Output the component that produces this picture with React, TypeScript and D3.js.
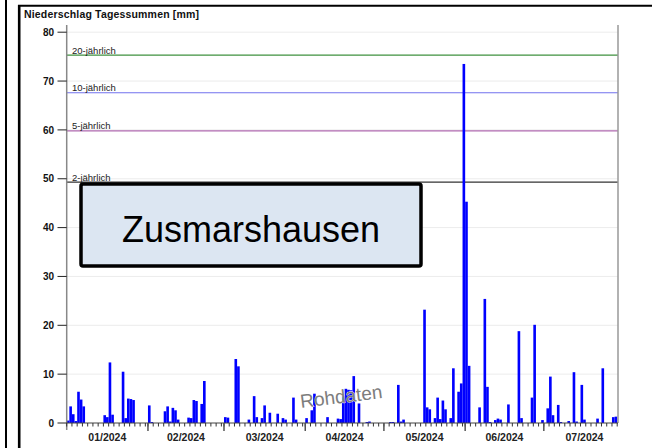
import * as d3 from "d3";
import { useEffect, useRef } from "react";

// daily precipitation, only days with rain (mm)
const rainDates = [
  "2024-01-01","2024-01-02","2024-01-03","2024-01-04","2024-01-05","2024-01-06","2024-01-07",
  "2024-01-15","2024-01-16","2024-01-17","2024-01-18","2024-01-22","2024-01-23","2024-01-24","2024-01-25","2024-01-26",
  "2024-02-01","2024-02-02","2024-02-07","2024-02-08","2024-02-09","2024-02-10","2024-02-11","2024-02-12",
  "2024-02-16","2024-02-17","2024-02-18","2024-02-19","2024-02-21","2024-02-22",
  "2024-03-01","2024-03-02","2024-03-05","2024-03-06","2024-03-10","2024-03-12","2024-03-13","2024-03-15","2024-03-16",
  "2024-03-18","2024-03-21","2024-03-23","2024-03-24","2024-03-27","2024-03-28",
  "2024-04-01","2024-04-03","2024-04-04","2024-04-09","2024-04-13","2024-04-14","2024-04-15","2024-04-16","2024-04-17",
  "2024-04-18","2024-04-19","2024-04-21","2024-04-24","2024-04-25",
  "2024-05-03","2024-05-04","2024-05-06","2024-05-07","2024-05-08","2024-05-16","2024-05-17","2024-05-18","2024-05-20",
  "2024-05-21","2024-05-22","2024-05-23","2024-05-24","2024-05-26","2024-05-27","2024-05-29","2024-05-30","2024-05-31",
  "2024-06-01","2024-06-02","2024-06-06","2024-06-08","2024-06-09","2024-06-10","2024-06-12","2024-06-13","2024-06-14",
  "2024-06-17","2024-06-21","2024-06-22","2024-06-26","2024-06-27","2024-06-30",
  "2024-07-02","2024-07-03","2024-07-04","2024-07-06","2024-07-07","2024-07-10","2024-07-12","2024-07-13","2024-07-15",
  "2024-07-16","2024-07-21","2024-07-23","2024-07-27","2024-07-28",
];
const rainValues = [
  0.5,3.4,1.8,0.4,6.4,4.8,3.4,
  1.6,1.2,12.4,1.7,10.5,1.0,5.0,4.9,4.7,
  3.6,0.2,2.4,3.4,0.3,3.1,2.6,0.7,
  1.1,1.0,4.7,4.5,3.9,8.6,
  1.2,1.1,13.1,11.6,0.7,5.5,1.2,1.0,3.6,
  2.1,1.9,1.0,0.7,5.2,0.7,
  1.0,2.6,6.0,1.2,0.9,0.8,5.5,7.0,6.8,
  6.7,9.6,4.0,0.2,0.3,
  0.2,0.2,7.8,0.3,0.7,23.2,3.2,2.8,1.0,
  5.2,0.8,4.6,2.8,1.0,11.2,6.4,8.1,73.5,
  45.3,11.7,3.2,25.4,7.4,0.2,0.6,0.9,0.7,
  3.8,18.8,1.0,5.2,20.1,0.6,
  3.0,9.5,1.6,3.7,0.2,0.4,10.4,0.3,7.8,
  0.7,0.9,11.2,1.2,1.3,
];

// return period thresholds
const returnLabels = ["20-jährlich","10-jährlich","5-jährlich","2-jährlich"];
const returnValues = [75.3,67.6,59.8,49.3];
const returnColors = ["#3f913f","#7272ee","#b06ab0","#333333"];

const yTicks = [0,10,20,30,40,50,60,70,80];
const monthLabels = ["01/2024","02/2024","03/2024","04/2024","05/2024","06/2024","07/2024"];

const title = "Niederschlag Tagessummen [mm]";
const station = "Zusmarshausen";

const App = () => {
  const svgRef = useRef<SVGSVGElement>(null);

  useEffect(() => {
    const w = 652, h = 448;
    const left = 66.7, right = 618, top = 25, bottom = 423;
    const svg = d3.select(svgRef.current).attr("width", w).attr("height", h);
    svg.selectAll("*").remove();

    const parse = d3.utcParse("%Y-%m-%d");
    const start = parse("2024-01-01") as Date;
    const end = new Date(start.getTime() + 210.3 * 864e5);

    const x = d3.scaleUtc().domain([start, end]).range([left, right]);
    const y = d3.scaleLinear().domain([0, 80]).range([bottom, 32.2]);

    // outer frame
    svg.append("rect").attr("width", w).attr("height", h).attr("fill", "#fff");
    svg.append("line").attr("x1", 6).attr("x2", 6).attr("y1", 0).attr("y2", h)
      .attr("stroke", "#000").attr("stroke-width", 2);
    svg.append("line").attr("x1", 19.2).attr("x2", 19.2).attr("y1", 5).attr("y2", h)
      .attr("stroke", "#000").attr("stroke-width", 2.6);
    svg.append("line").attr("x1", 18).attr("x2", w).attr("y1", 5.8).attr("y2", 5.8)
      .attr("stroke", "#000").attr("stroke-width", 2);

    svg.append("text").attr("x", 24).attr("y", 18)
      .attr("font-family", "Liberation Sans, Arial, sans-serif")
      .attr("font-size", 10.5).attr("font-weight", "bold").attr("fill", "#111")
      .attr("textLength", 175).text(title);

    // grid
    svg.append("g").selectAll("line").data(yTicks.filter(d => d > 0)).join("line")
      .attr("x1", left).attr("x2", right)
      .attr("y1", d => y(d)).attr("y2", d => y(d))
      .attr("stroke", "#ececec").attr("stroke-width", 1);

    // return period lines
    const rp = svg.append("g");
    returnValues.forEach((v, i) => {
      rp.append("line").attr("x1", left).attr("x2", right)
        .attr("y1", y(v)).attr("y2", y(v))
        .attr("stroke", returnColors[i]).attr("stroke-width", 1.2);
      rp.append("text").attr("x", 72).attr("y", y(v) - 1.5)
        .attr("font-family", "Liberation Sans, Arial, sans-serif")
        .attr("font-size", 9.5).attr("fill", "#222").text(returnLabels[i]);
    });

    // bars
    svg.append("g").selectAll("rect")
      .data(rainDates.map((d, i) => ({ date: parse(d) as Date, value: rainValues[i] })))
      .join("rect")
      .attr("x", d => x(d.date))
      .attr("width", d => x(d3.utcDay.offset(d.date, 1)) - x(d.date))
      .attr("y", d => y(d.value))
      .attr("height", d => bottom - y(d.value))
      .attr("fill", "#0000ff");

    // axes
    svg.append("line").attr("x1", left).attr("x2", left).attr("y1", top).attr("y2", bottom + 7)
      .attr("stroke", "#888").attr("stroke-width", 1.5);
    svg.append("line").attr("x1", right).attr("x2", right).attr("y1", top).attr("y2", bottom)
      .attr("stroke", "#999").attr("stroke-width", 1.5);
    svg.append("line").attr("x1", left).attr("x2", right).attr("y1", bottom).attr("y2", bottom)
      .attr("stroke", "#444").attr("stroke-width", 1.2);

    const yAxis = svg.append("g");
    yAxis.selectAll("line").data(yTicks).join("line")
      .attr("x1", 57.5).attr("x2", left).attr("y1", d => y(d)).attr("y2", d => y(d))
      .attr("stroke", "#222").attr("stroke-width", 1);
    yAxis.selectAll("text").data(yTicks).join("text")
      .attr("x", 54).attr("y", d => y(d) + 3.6).attr("text-anchor", "end")
      .attr("font-family", "Liberation Sans, Arial, sans-serif")
      .attr("font-size", 10).attr("font-weight", "bold").attr("fill", "#111")
      .text(d => d);

    const minor = d3.utcDay.every(2)!.range(start, end);
    svg.append("g").selectAll("line").data(minor).join("line")
      .attr("x1", d => x(d)).attr("x2", d => x(d))
      .attr("y1", bottom).attr("y2", bottom + 3.5)
      .attr("stroke", "#333").attr("stroke-width", 1);

    const months = d3.utcMonth.range(start, end);
    svg.append("g").selectAll("line").data(months.slice(1)).join("line")
      .attr("x1", d => x(d)).attr("x2", d => x(d))
      .attr("y1", bottom).attr("y2", bottom + 8)
      .attr("stroke", "#555").attr("stroke-width", 1.5);
    svg.append("g").selectAll("text").data(months).join("text")
      .attr("x", d => (x(d) + x(d3.utcMonth.offset(d, 1))) / 2)
      .attr("y", 441)
      .attr("text-anchor", "middle")
      .attr("font-family", "Liberation Sans, Arial, sans-serif")
      .attr("font-size", 10.5).attr("font-weight", "bold").attr("fill", "#222")
      .text((d, i) => monthLabels[i]);

    // watermark
    svg.append("text").attr("transform", "translate(342,403) rotate(-7)")
      .attr("text-anchor", "middle")
      .attr("font-family", "Liberation Sans, Arial, sans-serif")
      .attr("font-size", 19).attr("fill", "#7d7d7d")
      .attr("stroke", "#fff").attr("stroke-width", 0.7).attr("paint-order", "stroke")
      .text("Rohdaten");

    // station label box
    svg.append("rect").attr("x", 81).attr("y", 184).attr("width", 340).attr("height", 82)
      .attr("rx", 2).attr("fill", "#dce6f2").attr("stroke", "#000").attr("stroke-width", 3.5);
    svg.append("text").attr("x", 251).attr("y", 242).attr("text-anchor", "middle")
      .attr("font-family", "Liberation Sans, Arial, sans-serif")
      .attr("font-size", 36).attr("fill", "#000").text(station);
  }, []);

  return (
    <svg ref={svgRef} style={{ position: "absolute", left: 0, top: 0 }}></svg>
  );
};

export default App;
